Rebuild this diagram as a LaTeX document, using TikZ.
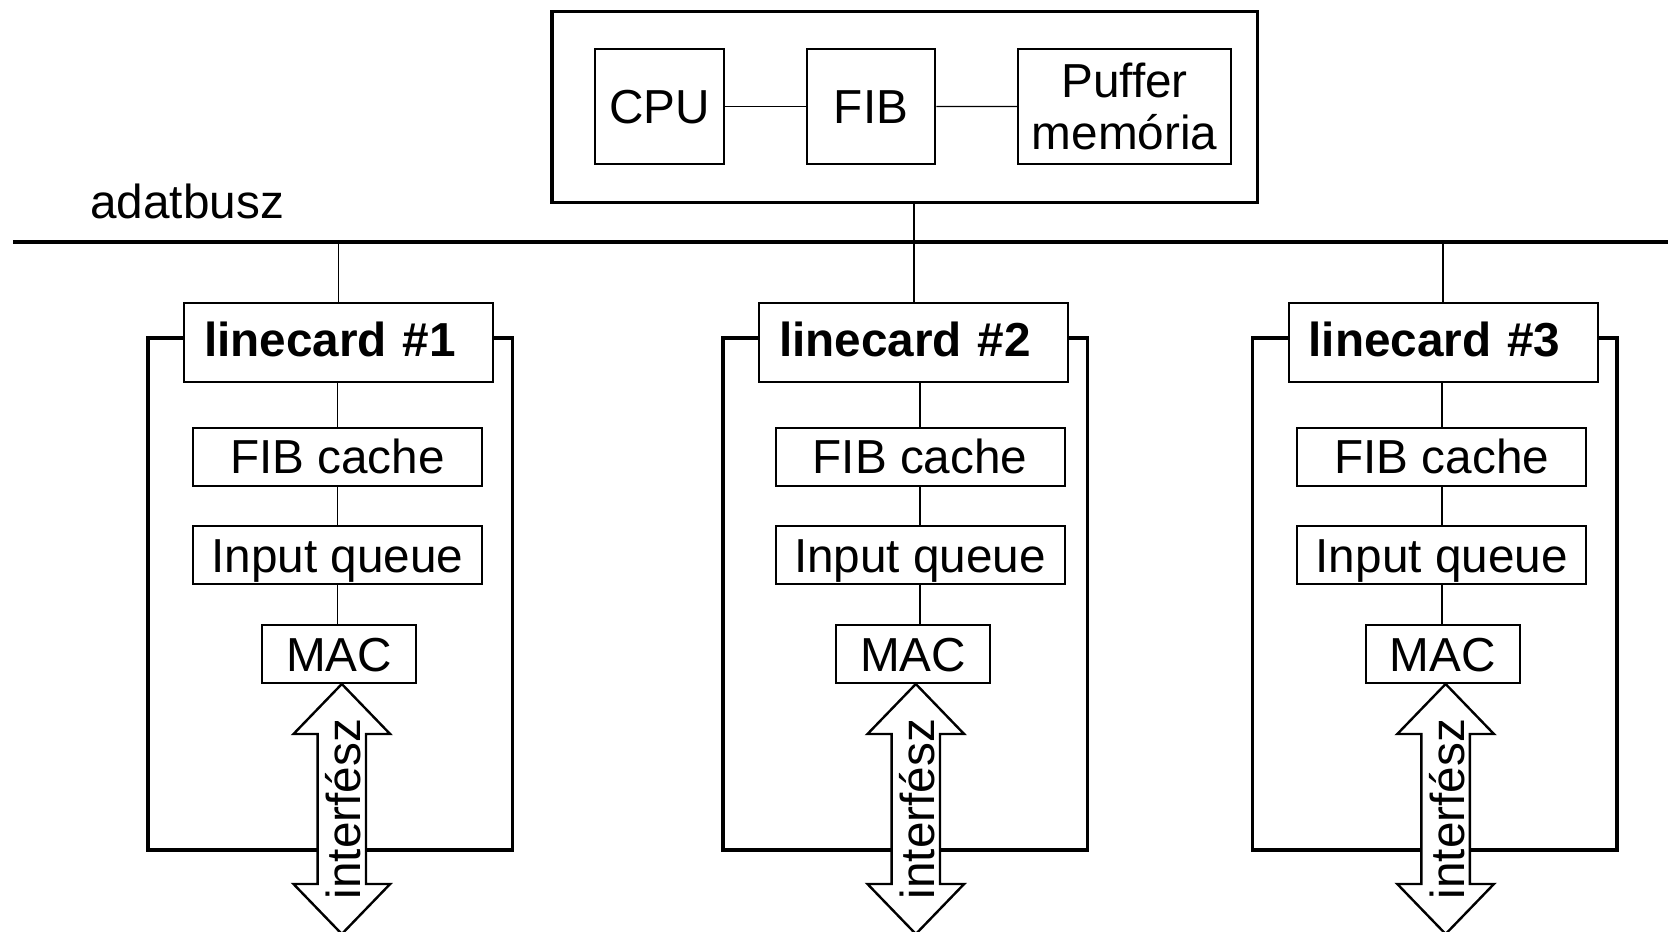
\documentclass[tikz,border=0pt]{standalone}
\usepackage{fontspec}
\setmainfont{Liberation Sans}
\begin{document}
\begin{tikzpicture}[x=0.5pt,y=-0.5pt,
  font=\fontsize{23.85pt}{26.1pt}\selectfont,
  cell/.style={draw,line width=1pt,inner sep=0pt,align=center},
  one/.style={cell,text height=17pt,text depth=0pt},
  ctrlbox/.style={draw,line width=1.75pt,inner sep=0pt},
  link/.style={line width=0.65pt},
  drop/.style={line width=0.9pt},
  busline/.style={line width=1.85pt},
  frame/.style={line width=1.75pt,line join=miter},
  port/.style={draw,line width=1.2pt,fill=white,line join=miter},
  cardhead/.style={cell,font=\fontsize{23.85pt}{26.1pt}\selectfont\bfseries,
    minimum width=154.5pt,minimum height=39.5pt,text width=134.5pt,
    inner xsep=10pt,align=left,text height=14.2pt,text depth=0pt}
]
\useasboundingbox (0,0) rectangle (1668,931);

% central controller
\node[ctrlbox,minimum width=352.8pt,minimum height=95.5pt] (ctrl) at (904.8,107.2) {};
\node[one,minimum width=64.85pt,minimum height=57.5pt] (cpu) at (659.5,106.5) {CPU};
\node[one,minimum width=64.3pt,minimum height=57.5pt] (fib) at (871,106.5) {FIB};
\node[cell,minimum width=106.4pt,minimum height=57.6pt] (buf) at (1124.5,106.6) {Puffer\\memória};
\draw[link] (cpu.east) -- (fib.west);
\draw[link] (fib.east) -- (buf.west);

% data bus
\node[anchor=base west,inner sep=0pt] (busname) at (90,218.3) {adatbusz};
\coordinate (busL) at (13.4,241.7);
\coordinate (busR) at (1668,241.7);
\draw[busline] (busL) -- (busR);

% line cards
\foreach \i/\bx/\cx/\mx in {1/338.5/337.5/339, 2/913.6/920/913, 3/1443/1441.7/1442.8} {
  \node[cardhead] (lc\i) at (\bx,342.5) {linecard \#\i};
  \node[one,minimum width=144.5pt,minimum height=28.75pt] (fc\i) at (\cx,456.75) {FIB cache};
  \node[one,minimum width=144.5pt,minimum height=29pt] (iq\i) at (\cx,555) {Input queue};
  \node[one,minimum width=77pt,minimum height=29pt] (mac\i) at (\mx,654) {MAC};
  \draw[drop] (lc\i.north) -- (lc\i.north |- busL);
  \draw[drop] (fc\i.north) -- (fc\i.north |- lc\i.south);
  \draw[drop] (fc\i.south) -- (iq\i.north);
  \draw[drop] (iq\i.south) -- (iq\i.south |- mac\i.north);
  \draw[frame] (lc\i.west |- 0,338) -- ++(-35,0) |- ++(364.5,512) -- ++(0,-512) -- (lc\i.east |- 0,338);
  \coordinate (tip\i) at ([xshift=1.4pt]mac\i.south);
  \draw[port] (tip\i) -- ++(48.3,50) -- ++(-24.1,0) -- ++(0,150) -- ++(24.1,0)
    -- ++(-48.3,50) -- ++(-48.3,-50) -- ++(24.1,0) -- ++(0,-150) -- ++(-24.1,0) -- cycle;
  \node[rotate=90,inner sep=0pt,text height=19pt,text depth=0pt] (if\i) at ([yshift=-62.5pt]tip\i) {interfész};
}
\draw[drop] (lc2.north |- ctrl.south) -- (lc2.north);
\end{tikzpicture}
\end{document}
